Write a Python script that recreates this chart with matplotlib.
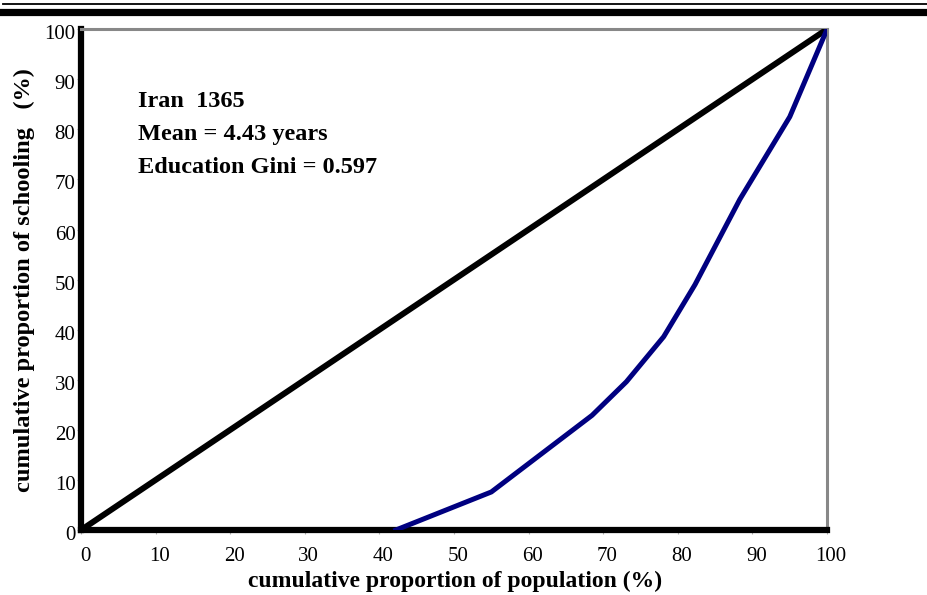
import matplotlib.pyplot as plt
from matplotlib.lines import Line2D
from matplotlib.transforms import ScaledTranslation

# Lorenz curve of schooling
pop_share = [42.2, 55.0, 68.5, 73.1, 78.1, 82.3, 88.3, 95.0, 97.0, 100.0]
school_share = [0.0, 7.6, 22.9, 29.6, 38.6, 49.0, 66.0, 82.5, 89.5, 100.0]
equality_x = [0, 100]
equality_y = [0, 100]
ticks = [0, 10, 20, 30, 40, 50, 60, 70, 80, 90, 100]
info_lines = ["Iran  1365", "Mean = 4.43 years", "Education Gini = 0.597"]

plt.rcParams["font.family"] = ["Liberation Serif", "DejaVu Serif"]

fig = plt.figure(figsize=(9.27, 5.95), dpi=100)
ax = fig.add_axes([0.0874, 0.1092, 0.8048, 0.8418])

ax.plot(equality_x, equality_y, color="black", linewidth=4.3, solid_capstyle="round", zorder=3)
ax.plot(pop_share, school_share, color="#000080", linewidth=3.6, zorder=4)

ax.set_xlim(0, 100)
ax.set_ylim(0, 100)
ax.set_xticks(ticks)
ax.set_yticks(ticks)
ax.tick_params(axis="both", labelsize=15, length=3, width=0.8, color="#b0b0b0")
ax.tick_params(axis="x", pad=9)
ax.tick_params(axis="y", pad=1)

# tick labels sit a little right of / below their ticks in the original
for lab in ax.get_xticklabels():
    lab.set_transform(lab.get_transform() + ScaledTranslation(4 / 100, 0, fig.dpi_scale_trans))
for lab in ax.get_yticklabels():
    lab.set_transform(lab.get_transform() + ScaledTranslation(0, -3 / 100, fig.dpi_scale_trans))

for side in ["left", "bottom"]:
    ax.spines[side].set_color("black")
    ax.spines[side].set_linewidth(4.5)
for side in ["top", "right"]:
    ax.spines[side].set_color("#888888")
    ax.spines[side].set_linewidth(2.2)

fig.text(455 / 927, 1 - 587 / 595, "cumulative proportion of population (%)",
         fontsize=17, fontweight="bold", ha="center", va="baseline")
fig.text(24 / 927, 1 - 280 / 595, "cumulative proportion of schooling   (%)",
         fontsize=17.6, fontweight="bold", ha="center", va="center", rotation=90)

for i, line in enumerate(info_lines):
    ax.text(7.6, 84.4 - i * 6.6, line, fontsize=17.5, fontweight="bold", va="baseline", ha="left")

# double rule across the top of the page
fig.add_artist(Line2D([0.003, 1.0], [1 - 4 / 595, 1 - 4 / 595], color="black", linewidth=1.3))
fig.add_artist(Line2D([0.003, 1.0], [1 - 11.5 / 595, 1 - 11.5 / 595], color="black", linewidth=5.2))

fig.savefig("out.png", dpi=100)
